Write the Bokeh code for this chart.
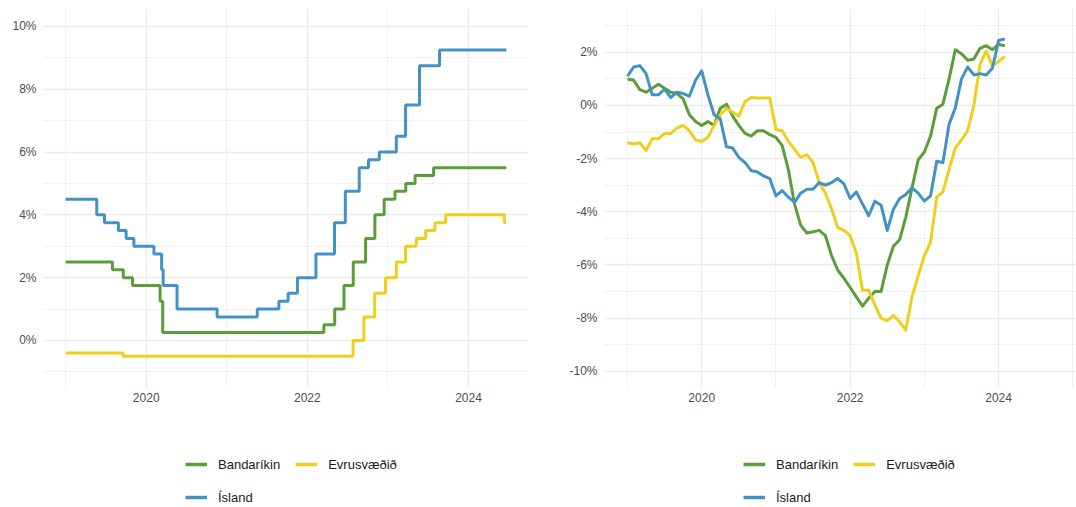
from datetime import date
from bokeh.plotting import figure
from bokeh.models import FixedTicker, Legend, LegendItem, Range1d
from bokeh.layouts import row, column
from bokeh.embed import file_html
from bokeh.resources import INLINE

# ---------------- data: policy rates (left panel) ----------------
series_names = ["Bandaríkin", "Evrusvæðið", "Ísland"]
colors = ["#5A9E3A", "#EFCF1C", "#4392C6"]

us_dates = ["2019-01-01", "2019-08-01", "2019-09-19", "2019-10-31", "2020-03-04",
            "2020-03-16", "2022-03-17", "2022-05-05", "2022-06-16", "2022-07-28",
            "2022-09-22", "2022-11-03", "2022-12-15", "2023-02-02", "2023-03-23",
            "2023-05-04", "2023-07-27", "2024-06-21"]
us_rates = [2.5, 2.25, 2.0, 1.75, 1.25, 0.25, 0.5, 1.0, 1.75, 2.5, 3.25, 4.0, 4.5,
            4.75, 5.0, 5.25, 5.5, 5.5]

ez_dates = ["2019-01-01", "2019-09-18", "2022-07-27", "2022-09-14", "2022-11-02",
            "2022-12-21", "2023-02-08", "2023-03-22", "2023-05-10", "2023-06-21",
            "2023-08-02", "2023-09-20", "2024-06-12", "2024-06-21"]
ez_rates = [-0.4, -0.5, 0.0, 0.75, 1.5, 2.0, 2.5, 3.0, 3.25, 3.5, 3.75, 4.0, 3.75, 3.75]

is_dates = ["2019-01-01", "2019-05-22", "2019-06-26", "2019-08-28", "2019-10-02",
            "2019-11-06", "2020-02-05", "2020-03-11", "2020-03-18", "2020-05-20",
            "2020-11-18", "2021-05-19", "2021-08-25", "2021-10-06", "2021-11-17",
            "2022-02-09", "2022-05-04", "2022-06-22", "2022-08-24", "2022-10-05",
            "2022-11-23", "2023-02-08", "2023-03-22", "2023-05-24", "2023-08-23",
            "2024-06-21"]
is_rates = [4.5, 4.0, 3.75, 3.5, 3.25, 3.0, 2.75, 2.25, 1.75, 1.0, 0.75, 1.0, 1.25,
            1.5, 2.0, 2.75, 3.75, 4.75, 5.5, 5.75, 6.0, 6.5, 7.5, 8.75, 9.25, 9.25]

# ---------------- data: real rates, monthly from Jan 2019 (right panel) ----------------
real_start = "2019-01"
us_real = [1.0, 0.95, 0.6, 0.5, 0.65, 0.8, 0.65, 0.5, 0.45, 0.25, -0.35, -0.6,
           -0.75, -0.6, -0.75, -0.1, 0.05, -0.4, -0.75, -1.05, -1.15, -0.95, -0.95, -1.1,
           -1.2, -1.5, -2.4, -3.7, -4.5, -4.8, -4.75, -4.7, -4.9, -5.65, -6.2, -6.5,
           -6.85, -7.2, -7.55, -7.25, -7.0, -7.0, -6.0, -5.3, -5.05, -4.2, -3.1, -2.05,
           -1.75, -1.15, -0.1, 0.05, 1.0, 2.1, 1.95, 1.7, 1.75, 2.15, 2.25, 2.1,
           2.3, 2.25]
ez_real = [-1.4, -1.45, -1.4, -1.7, -1.25, -1.25, -1.05, -1.05, -0.85, -0.75, -0.95, -1.3,
           -1.35, -1.2, -0.75, -0.35, -0.1, -0.25, -0.4, 0.15, 0.3, 0.28, 0.28, 0.28,
           -0.9, -0.95, -1.35, -1.65, -1.95, -1.85, -2.15, -2.9, -3.3, -3.9, -4.6, -4.7,
           -4.9, -5.55, -6.95, -6.95, -7.5, -8.0, -8.1, -7.9, -8.15, -8.45, -7.2, -6.4,
           -5.65, -5.15, -3.45, -3.25, -2.4, -1.6, -1.3, -0.95, 0.0, 1.55, 2.05, 1.5,
           1.65, 1.85]
is_real = [1.1, 1.45, 1.5, 1.2, 0.4, 0.4, 0.62, 0.3, 0.5, 0.45, 0.35, 0.95,
           1.3, 0.4, -0.35, -0.5, -1.55, -1.6, -1.95, -2.15, -2.45, -2.5, -2.65, -2.75,
           -3.4, -3.2, -3.45, -3.65, -3.3, -3.15, -3.15, -2.9, -3.0, -2.9, -2.75, -2.95,
           -3.5, -3.25, -3.7, -4.15, -3.6, -3.75, -4.7, -3.9, -3.5, -3.35, -3.1, -3.3,
           -3.6, -3.4, -2.1, -2.15, -0.7, -0.1, 1.0, 1.45, 1.15, 1.2, 1.15, 1.4,
           2.45, 2.5]

left_yticks = [0, 2, 4, 6, 8, 10]
left_yminor = [-1, 1, 3, 5, 7, 9]
right_yticks = [-10, -8, -6, -4, -2, 0, 2]
right_yminor = [-9, -7, -5, -3, -1, 1, 3]
year_ticks = [2020, 2022, 2024]
left_xminor = [2019, 2021, 2023]
right_xminor = [2019, 2021, 2023, 2025]


def dec_year(s):
    d = date.fromisoformat(s)
    start = date(d.year, 1, 1)
    n = (date(d.year + 1, 1, 1) - start).days
    return d.year + (d - start).days / n


def month_years(start, n):
    y, m = map(int, start.split("-"))
    return [y + (m - 1 + i) / 12 for i in range(n)]


FONT = "Liberation Sans"
H_MAIN = 440
H_LEG = 67

left_x = [[dec_year(s) for s in d] for d in (us_dates, ez_dates, is_dates)]
left_y = [us_rates, ez_rates, is_rates]
right_y = [us_real, ez_real, is_real]
right_x = [month_years(real_start, len(v)) for v in right_y]


def make_fig(width, lb, rb, xr, yr, yticks, yminor, xminor):
    p = figure(width=width, height=H_MAIN, x_range=Range1d(*xr), y_range=Range1d(*yr),
               output_backend="svg", toolbar_location=None,
               min_border_left=lb, min_border_right=rb, min_border_top=8,
               min_border_bottom=52)
    p.outline_line_color = None
    p.background_fill_color = "white"
    p.border_fill_color = "white"
    p.yaxis.ticker = FixedTicker(ticks=yticks, minor_ticks=yminor)
    p.xaxis.ticker = FixedTicker(ticks=year_ticks, minor_ticks=xminor)
    p.yaxis.major_label_overrides = {t: f"{t}%" for t in yticks}
    p.xaxis.major_label_overrides = {t: str(t) for t in year_ticks}
    for ax in (p.xaxis, p.yaxis):
        ax.axis_line_color = None
        ax.major_tick_line_color = None
        ax.minor_tick_line_color = None
        ax.major_tick_out = 0
        ax.minor_tick_out = 0
        ax.major_label_text_font = FONT
        ax.major_label_text_font_size = "12px"
        ax.major_label_text_color = "#4D4D4D"
    p.yaxis.major_label_standoff = 7
    p.xaxis.major_label_standoff = 4
    for g in (p.xgrid, p.ygrid):
        g.grid_line_color = "#EBEBEB"
        g.grid_line_width = 1.4
        g.minor_grid_line_color = "#EEEEEE"
        g.minor_grid_line_width = 0.8
    return p


def make_legend_fig(width, xs, ys, x):
    # legend strip under a panel; its renderers hold the panel's series but the
    # strip's ranges keep them out of view, so only the legend keys show
    q = figure(width=width, height=H_LEG, x_range=Range1d(0, 1), y_range=Range1d(0, 1),
               output_backend="svg", toolbar_location=None, x_axis_type=None,
               y_axis_type=None, min_border=0)
    q.outline_line_color = None
    q.grid.visible = False
    rs = [q.line(x=xx, y=yy, line_color=c, line_width=3.5) for xx, yy, c in zip(xs, ys, colors)]
    items = [LegendItem(label=n, renderers=[r]) for n, r in zip(series_names, rs)]
    leg = Legend(items=items, orientation="horizontal", ncols=2,
                 location=(x, 1), border_line_color=None,
                 background_fill_alpha=0, padding=0, margin=0, spacing=15,
                 glyph_width=22, glyph_height=18, label_height=18, label_standoff=11,
                 label_text_font=FONT, label_text_font_size="13px",
                 label_text_color="#1A1A1A")
    q.add_layout(leg)
    return q


# ---------------- left panel ----------------
p1 = make_fig(540, 43, 12, (2018.725, 2024.745), (-1.53, 10.57),
              left_yticks, left_yminor, left_xminor)
for xx, vals, c in zip(left_x, left_y, colors):
    p1.step(xx, vals, mode="after", line_color=c, line_width=3)
l1 = make_legend_fig(540, left_x, left_y, 142)

# ---------------- right panel ----------------
p2 = make_fig(536, 64, 0, (2018.69, 2025.05), (-10.65, 3.65),
              right_yticks, right_yminor, right_xminor)
for xx, vals, c in zip(right_x, right_y, colors):
    p2.line(xx, vals, line_color=c, line_width=3, line_join="round")
l2 = make_legend_fig(536, right_x, right_y, 139)

layout = row(column(p1, l1), column(p2, l2))
open("out.html", "w").write(file_html(layout, INLINE))
